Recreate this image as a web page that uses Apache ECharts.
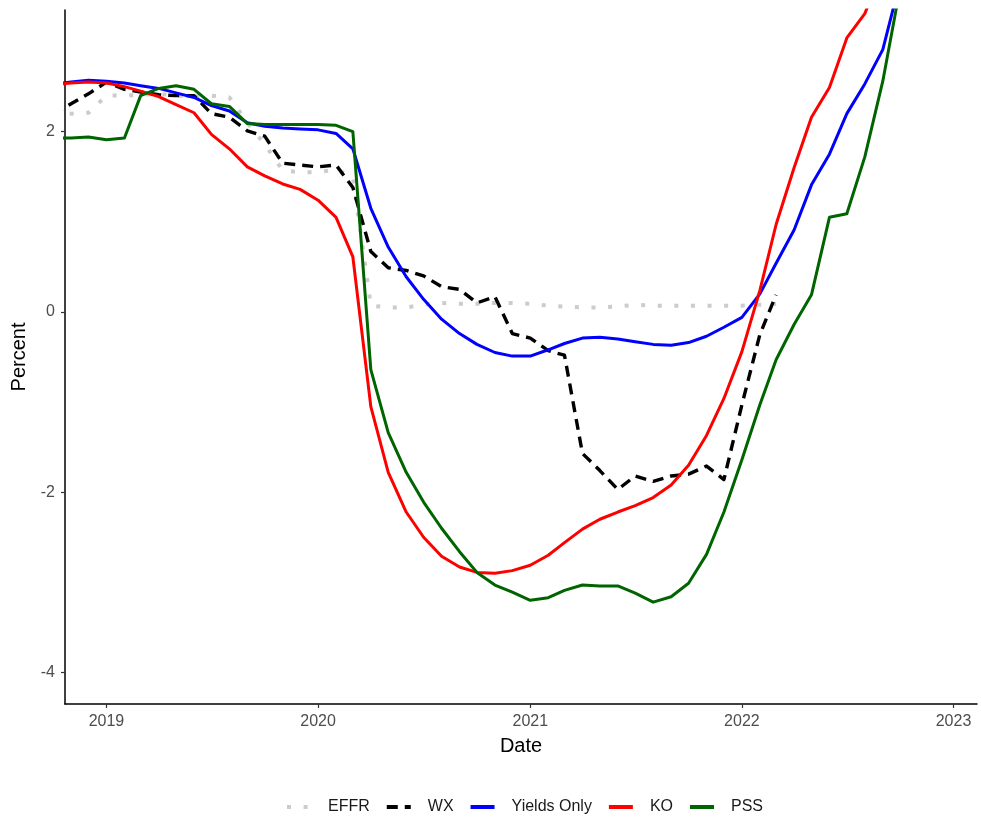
<!DOCTYPE html>
<html>
<head>
<meta charset="utf-8">
<title>Policy rate measures</title>
<script src="https://cdn.jsdelivr.net/npm/echarts@6/dist/echarts.min.js"></script>
<style>
  html, body { margin: 0; padding: 0; background: #ffffff; }
  #chart { width: 981px; height: 825px; }
</style>
</head>
<body>
<div id="chart"></div>
<script>
// Monthly observation dates (first of month)
const months = [
  '2018-10-01','2018-11-01','2018-12-01',
  '2019-01-01','2019-02-01','2019-03-01','2019-04-01','2019-05-01','2019-06-01',
  '2019-07-01','2019-08-01','2019-09-01','2019-10-01','2019-11-01','2019-12-01',
  '2020-01-01','2020-02-01','2020-03-01','2020-04-01','2020-05-01','2020-06-01',
  '2020-07-01','2020-08-01','2020-09-01','2020-10-01','2020-11-01','2020-12-01',
  '2021-01-01','2021-02-01','2021-03-01','2021-04-01','2021-05-01','2021-06-01',
  '2021-07-01','2021-08-01','2021-09-01','2021-10-01','2021-11-01','2021-12-01',
  '2022-01-01','2022-02-01','2022-03-01','2022-04-01','2022-05-01','2022-06-01',
  '2022-07-01','2022-08-01','2022-09-01','2022-10-01'
];

// Effective federal funds rate (Oct 2018 - Mar 2022)
const effr = [
  2.19, 2.20, 2.21,
  2.40, 2.40, 2.41, 2.42, 2.40, 2.39, 2.40, 2.38, 2.10, 1.86, 1.57, 1.55,
  1.55, 1.58, 1.50, 0.07, 0.05, 0.05, 0.08, 0.10, 0.09, 0.09, 0.10, 0.10,
  0.09, 0.07, 0.06, 0.05, 0.05, 0.06, 0.08, 0.07, 0.07, 0.07, 0.07, 0.07,
  0.07, 0.08, 0.09
];

// Wu-Xia shadow rate (Oct 2018 - Mar 2022)
const wx = [
  2.19, 2.31, 2.42,
  2.55, 2.47, 2.44, 2.41, 2.40, 2.40, 2.20, 2.16, 2.01, 1.95, 1.65, 1.63,
  1.61, 1.63, 1.38, 0.67, 0.49, 0.46, 0.40, 0.28, 0.25, 0.10, 0.17, -0.24,
  -0.29, -0.43, -0.48, -1.57, -1.76, -1.97, -1.82, -1.88, -1.82, -1.80, -1.71, -1.86,
  -1.03, -0.25, 0.19
];

// Shadow rate estimated from yields only
const yieldsOnly = [
  2.53, 2.55, 2.57,
  2.56, 2.54, 2.51, 2.48, 2.43, 2.38, 2.29, 2.23, 2.10, 2.06, 2.04, 2.03,
  2.02, 1.98, 1.81, 1.15, 0.72, 0.39, 0.14, -0.08, -0.24, -0.36, -0.45, -0.49,
  -0.49, -0.42, -0.35, -0.29, -0.28, -0.30, -0.33, -0.36, -0.37, -0.34, -0.27, -0.17,
  -0.06, 0.20, 0.54, 0.91, 1.41, 1.75, 2.20, 2.53, 2.91, 3.67
];

// KO shadow rate
const ko = [
  2.52, 2.54, 2.55,
  2.54, 2.50, 2.45, 2.39, 2.30, 2.21, 1.97, 1.81, 1.61, 1.51, 1.42, 1.36,
  1.24, 1.05, 0.61, -1.05, -1.78, -2.22, -2.50, -2.71, -2.83, -2.89, -2.90, -2.87,
  -2.81, -2.70, -2.56, -2.41, -2.30, -2.22, -2.15, -2.06, -1.92, -1.70, -1.37, -0.96,
  -0.44, 0.24, 0.97, 1.60, 2.16, 2.49, 3.04, 3.31, 3.80, 4.30
];

// PSS shadow rate
const pss = [
  1.93, 1.93, 1.94,
  1.91, 1.93, 2.40, 2.48, 2.51, 2.47, 2.31, 2.28, 2.09, 2.08, 2.08, 2.08,
  2.08, 2.07, 2.00, -0.64, -1.34, -1.78, -2.11, -2.40, -2.66, -2.89, -3.03, -3.11,
  -3.20, -3.17, -3.09, -3.03, -3.04, -3.04, -3.12, -3.22, -3.16, -3.01, -2.69, -2.22,
  -1.64, -1.03, -0.53, -0.14, 0.19, 1.05, 1.09, 1.72, 2.56, 3.60
];

// Axis ticks
const yTicks = [-4, -2, 0, 2];
const yearTicks = ['2019-01-01', '2020-01-01', '2021-01-01', '2022-01-01', '2023-01-01'];

// Axis limits: nominal range padded by 5% on each side
const yLimits = [-4, 3];
const xLimits = ['2019-01-01', '2022-12-01'];

function toTime(s) {
  const p = s.split('-').map(Number);
  return Date.UTC(p[0], p[1] - 1, p[2]);
}
function pad(lo, hi) {
  const d = (hi - lo) * 0.05;
  return [lo - d, hi + d];
}
function pairs(vals) {
  return vals.map((v, i) => [toTime(months[i]), v]);
}

const xRange = pad(toTime(xLimits[0]), toTime(xLimits[1]));
const yRange = pad(yLimits[0], yLimits[1]);

const FONT = '"Liberation Sans", Arial, Helvetica, sans-serif';

const chart = echarts.init(document.getElementById('chart'), null, { renderer: 'canvas' });

function lineSeries(name, vals, color, width, type) {
  return {
    name: name,
    type: 'line',
    data: pairs(vals),
    symbol: 'none',
    clip: true,
    lineStyle: { color: color, width: width, type: type || 'solid', cap: 'butt', join: 'round' },
    itemStyle: { color: color },
    emphasis: { disabled: true },
    animation: false
  };
}

chart.setOption({
  backgroundColor: '#ffffff',
  animation: false,
  textStyle: { fontFamily: FONT },
  grid: { left: 65, right: 4, top: 10, bottom: 121, containLabel: false, outerBoundsMode: 'none' },
  legend: {
    left: 280,
    top: 794,
    orient: 'horizontal',
    itemWidth: 24,
    itemHeight: 14,
    itemGap: 15,
    itemStyle: { opacity: 0, borderWidth: 0 },
    lineStyle: { width: 4 },
    textStyle: { fontSize: 16, color: '#1a1a1a', fontFamily: FONT, padding: [0, 0, 0, 12] },
    data: ['EFFR', 'WX', 'Yields Only', 'KO', 'PSS']
  },
  xAxis: {
    type: 'value',
    min: xRange[0],
    max: xRange[1],
    name: 'Date',
    nameLocation: 'middle',
    nameGap: 32,
    nameTextStyle: { fontSize: 20, color: '#000000', fontFamily: FONT },
    axisLine: { show: true, onZero: false, lineStyle: { color: '#000000', width: 1.5 } },
    axisTick: { show: true, length: 4, inside: false, lineStyle: { color: '#333333', width: 1.2 },
                customValues: yearTicks.map(toTime) },
    axisLabel: {
      show: true, fontSize: 16, color: '#4d4d4d', margin: 10, fontFamily: FONT,
      customValues: yearTicks.map(toTime),
      formatter: function (v) { return String(new Date(v).getUTCFullYear()); }
    },
    splitLine: { show: false }
  },
  yAxis: {
    type: 'value',
    min: yRange[0],
    max: yRange[1],
    name: 'Percent',
    nameLocation: 'middle',
    nameRotate: 90,
    nameGap: 30,
    nameTextStyle: { fontSize: 20, color: '#000000', fontFamily: FONT },
    axisLine: { show: true, onZero: false, lineStyle: { color: '#000000', width: 1.5 } },
    axisTick: { show: true, length: 4, inside: false, lineStyle: { color: '#333333', width: 1.2 },
                customValues: yTicks },
    axisLabel: {
      show: true, fontSize: 16, color: '#4d4d4d', margin: 10, fontFamily: FONT,
      customValues: yTicks
    },
    splitLine: { show: false }
  },
  series: [
    lineSeries('EFFR', effr, '#cccccc', 4, [4, 12.6]),
    lineSeries('WX', wx, '#000000', 3.4, [11, 7]),
    lineSeries('Yields Only', yieldsOnly, '#0000ff', 3),
    lineSeries('KO', ko, '#ff0000', 3),
    lineSeries('PSS', pss, '#006400', 3)
  ]
});
</script>
</body>
</html>
